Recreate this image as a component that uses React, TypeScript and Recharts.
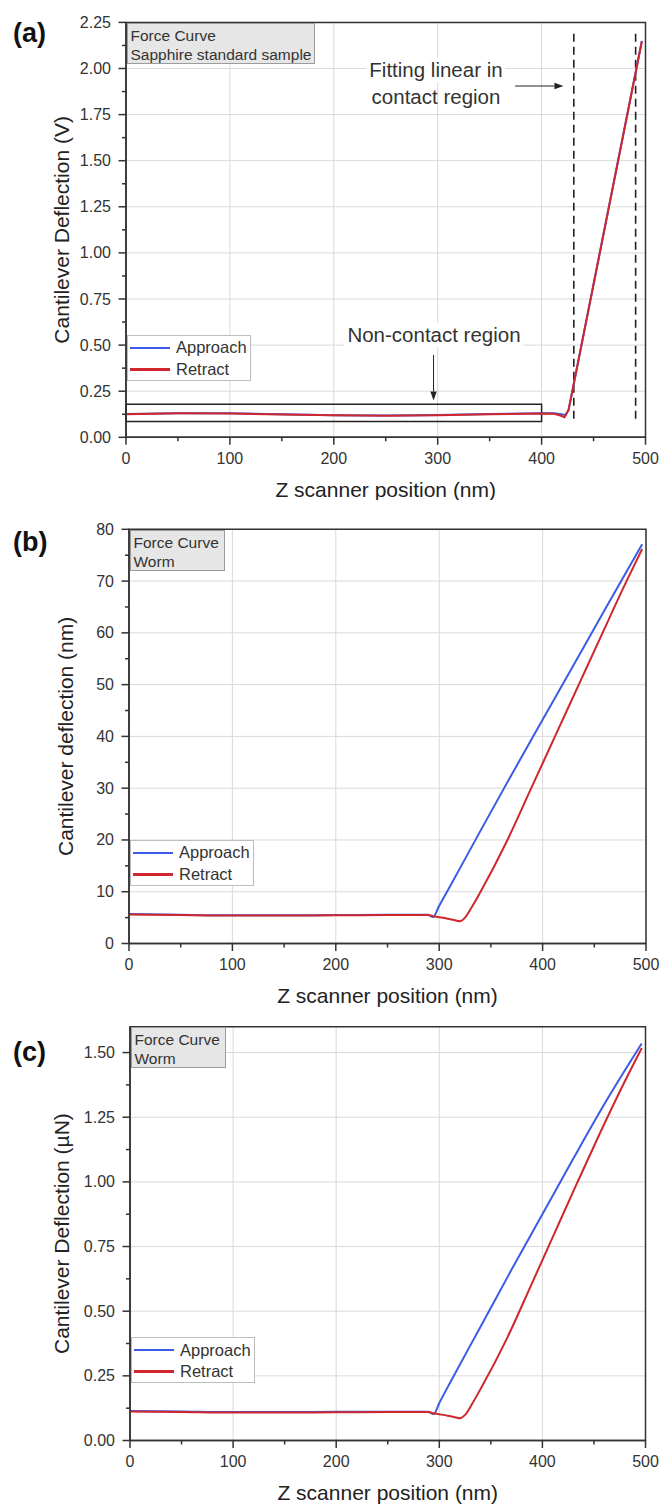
import React from 'react';
import { LineChart, Line, XAxis, YAxis, CartesianGrid, ReferenceArea, ReferenceLine } from 'recharts';

type Pt = { x: number; y: number };

const FONT = '"Liberation Sans", Arial, Helvetica, sans-serif';
const INK = '#333';
const GRID = '#d9d9d9';
const BLUE = '#3b5ce4';
const RED = '#d0262d';

const seriesNames = ['Approach', 'Retract'];
const seriesColors = [BLUE, RED];

const xTicks = [0, 50, 100, 150, 200, 250, 300, 350, 400, 450, 500];
const xMajor = [0, 100, 200, 300, 400, 500];

// (a) sapphire standard sample, volts
const approachA: Pt[] = [
  { x: 0, y: 0.127 }, { x: 50, y: 0.131 }, { x: 100, y: 0.13 }, { x: 150, y: 0.125 },
  { x: 200, y: 0.12 }, { x: 250, y: 0.118 }, { x: 300, y: 0.121 }, { x: 350, y: 0.126 },
  { x: 400, y: 0.13 }, { x: 412, y: 0.13 }, { x: 419, y: 0.125 }, { x: 423, y: 0.121 },
  { x: 426, y: 0.15 }, { x: 496.5, y: 2.15 },
];
const retractA: Pt[] = [
  { x: 0, y: 0.125 }, { x: 50, y: 0.13 }, { x: 100, y: 0.129 }, { x: 150, y: 0.124 },
  { x: 200, y: 0.119 }, { x: 250, y: 0.117 }, { x: 300, y: 0.12 }, { x: 350, y: 0.125 },
  { x: 400, y: 0.129 }, { x: 412, y: 0.128 }, { x: 418, y: 0.118 }, { x: 422, y: 0.109 },
  { x: 426, y: 0.148 }, { x: 496.5, y: 2.148 },
];
const yTicksA = [0, 0.125, 0.25, 0.375, 0.5, 0.625, 0.75, 0.875, 1, 1.125, 1.25, 1.375, 1.5, 1.625, 1.75, 1.875, 2, 2.125, 2.25];
const yMajorA = [0, 0.25, 0.5, 0.75, 1, 1.25, 1.5, 1.75, 2, 2.25];

// (b) worm, nm
const approachB: Pt[] = [
  { x: 0, y: 5.7 }, { x: 50, y: 5.55 }, { x: 100, y: 5.45 }, { x: 150, y: 5.45 },
  { x: 200, y: 5.5 }, { x: 250, y: 5.55 }, { x: 289, y: 5.55 }, { x: 294, y: 5.1 },
  { x: 300, y: 7.3 }, { x: 312, y: 11.6 }, { x: 340, y: 21.8 }, { x: 370, y: 32.6 },
  { x: 400, y: 43.2 }, { x: 430, y: 53.8 }, { x: 460, y: 64.4 }, { x: 496.3, y: 77.1 },
];
const retractB: Pt[] = [
  { x: 0, y: 5.6 }, { x: 50, y: 5.5 }, { x: 100, y: 5.4 }, { x: 150, y: 5.4 },
  { x: 200, y: 5.45 }, { x: 250, y: 5.5 }, { x: 289, y: 5.5 }, { x: 296, y: 5.2 },
  { x: 308, y: 4.8 }, { x: 316, y: 4.45 }, { x: 320, y: 4.3 }, { x: 325, y: 5.0 },
  { x: 332, y: 7.2 }, { x: 340, y: 10 }, { x: 366, y: 20 }, { x: 389, y: 30 },
  { x: 412, y: 40 }, { x: 435, y: 50 }, { x: 458, y: 60 }, { x: 480, y: 69.5 },
  { x: 496.3, y: 76.2 },
];
const yTicksB = [0, 5, 10, 15, 20, 25, 30, 35, 40, 45, 50, 55, 60, 65, 70, 75, 80];
const yMajorB = [0, 10, 20, 30, 40, 50, 60, 70, 80];

// (c) worm, µN
const approachC: Pt[] = [
  { x: 0, y: 0.114 }, { x: 50, y: 0.112 }, { x: 100, y: 0.11 }, { x: 150, y: 0.11 },
  { x: 200, y: 0.111 }, { x: 250, y: 0.111 }, { x: 289, y: 0.111 }, { x: 294.5, y: 0.102 },
  { x: 300, y: 0.145 }, { x: 312, y: 0.235 }, { x: 340, y: 0.44 }, { x: 370, y: 0.66 },
  { x: 400, y: 0.875 }, { x: 430, y: 1.09 }, { x: 460, y: 1.3 }, { x: 496.3, y: 1.535 },
];
const retractC: Pt[] = [
  { x: 0, y: 0.112 }, { x: 50, y: 0.11 }, { x: 100, y: 0.108 }, { x: 150, y: 0.108 },
  { x: 200, y: 0.109 }, { x: 250, y: 0.11 }, { x: 289, y: 0.11 }, { x: 296, y: 0.104 },
  { x: 308, y: 0.096 }, { x: 316, y: 0.089 }, { x: 320, y: 0.086 }, { x: 325, y: 0.099 },
  { x: 332, y: 0.143 }, { x: 340, y: 0.199 }, { x: 366, y: 0.398 }, { x: 389, y: 0.6 },
  { x: 411, y: 0.795 }, { x: 433, y: 0.99 }, { x: 456, y: 1.19 }, { x: 477, y: 1.365 },
  { x: 496.3, y: 1.517 },
];
const yTicksC = [0, 0.125, 0.25, 0.375, 0.5, 0.625, 0.75, 0.875, 1, 1.125, 1.25, 1.375, 1.5];
const yMajorC = [0, 0.25, 0.5, 0.75, 1, 1.25, 1.5];

const TICK = 8;
const GAP = 3;
const XH = 30;

const XTick = (props: any) => {
  const { x, y, payload, majors } = props;
  const v = payload.value;
  const major = majors.includes(v);
  const ay = y - TICK - GAP;
  return (
    <g>
      <line x1={x} x2={x} y1={ay} y2={ay + (major ? 7.5 : 4)} stroke={INK} strokeWidth={1.5} />
      {major && (
        <text x={x} y={ay + 21} textAnchor="middle" dominantBaseline="central" fontSize={16} fill={INK} fontFamily={FONT}>
          {v}
        </text>
      )}
    </g>
  );
};

const YTick = (props: any) => {
  const { x, y, payload, majors, decimals } = props;
  const v = payload.value;
  const major = majors.includes(v);
  const ax = x + TICK + GAP;
  return (
    <g>
      <line x1={ax} x2={ax - (major ? 7.5 : 4)} y1={y} y2={y} stroke={INK} strokeWidth={1.5} />
      {major && (
        <text x={ax - 15} y={y} textAnchor="end" dominantBaseline="central" fontSize={16} fill={INK} fontFamily={FONT}>
          {v.toFixed(decimals)}
        </text>
      )}
    </g>
  );
};

const Arrow = (p: any) => {
  const { x1, y1, x2, y2 } = p;
  const ang = Math.atan2(y2 - y1, x2 - x1);
  const L = 9;
  const Wd = 3.2;
  const bx = x2 - L * Math.cos(ang);
  const by = y2 - L * Math.sin(ang);
  const pts = `${x2},${y2} ${bx - Wd * Math.sin(ang)},${by + Wd * Math.cos(ang)} ${bx + Wd * Math.sin(ang)},${by - Wd * Math.cos(ang)}`;
  return (
    <g>
      <line x1={x1} y1={y1} x2={bx} y2={by} stroke="#222" strokeWidth={1} />
      <polygon points={pts} fill="#222" />
    </g>
  );
};

type PanelProps = {
  top: number;
  height: number;
  margin: { top: number; right: number; bottom: number; left: number };
  yWidth: number;
  series: Pt[][];
  yMax: number;
  yTicks: number[];
  yMajor: number[];
  decimals: number;
  yTitle: string;
  yTitleX: number;
  letter: string;
  letterY: number;
  boxLines: string[];
  boxW: number;
  legendTop: number;
  curve: 'linear' | 'monotone';
  extras?: React.ReactNode;
  notes?: React.ReactNode;
};

const W = 662;

const Panel = (p: PanelProps) => {
  // margin.bottom here is the distance from the plot bottom to the chart bottom
  const plotH = p.height - p.margin.top - p.margin.bottom;
  const plotW = W - p.yWidth - p.margin.right;
  const margin = { ...p.margin, bottom: p.margin.bottom - XH };
  return (
    <div style={{ position: 'absolute', left: 0, top: p.top, width: W, height: p.height, fontFamily: FONT }}>
      <LineChart width={W} height={p.height} margin={margin}>
        <CartesianGrid stroke={GRID} strokeWidth={1} horizontalValues={p.yMajor} verticalValues={xMajor} />
        <XAxis
          type="number"
          dataKey="x"
          domain={[0, 500]}
          ticks={xTicks}
          interval={0}
          height={XH}
          tickSize={TICK}
          tickMargin={GAP}
          tickLine={false}
          axisLine={{ stroke: INK, strokeWidth: 1.5 }}
          tick={<XTick majors={xMajor} />}
          label={() => (
            <text
              x={p.yWidth + plotW / 2}
              y={p.margin.top + plotH + 52}
              textAnchor="middle"
              dominantBaseline="central"
              fontSize={21}
              fill="#222"
              fontFamily={FONT}
            >
              Z scanner position (nm)
            </text>
          )}
        />
        <YAxis
          type="number"
          domain={[0, p.yMax]}
          ticks={p.yTicks}
          interval={0}
          width={p.yWidth}
          tickSize={TICK}
          tickMargin={GAP}
          tickLine={false}
          axisLine={{ stroke: INK, strokeWidth: 1.5 }}
          tick={<YTick majors={p.yMajor} decimals={p.decimals} />}
          label={() => {
            const cy = p.margin.top + plotH / 2;
            return (
              <text
                x={p.yTitleX}
                y={cy}
                transform={`rotate(-90 ${p.yTitleX} ${cy})`}
                textAnchor="middle"
                dominantBaseline="central"
                fontSize={21}
                fill="#222"
                fontFamily={FONT}
              >
                {p.yTitle}
              </text>
            );
          }}
        />
        <ReferenceArea x1={0} x2={500} y1={0} y2={p.yMax} fill="none" stroke={INK} strokeWidth={1.5} ifOverflow="visible" />
        {p.extras}
        {p.series.map((d, i) => (
          <Line
            key={seriesNames[i]}
            data={d}
            dataKey="y"
            name={seriesNames[i]}
            type={p.curve}
            stroke={seriesColors[i]}
            strokeWidth={2}
            dot={false}
            activeDot={false}
            isAnimationActive={false}
          />
        ))}
      </LineChart>

      <div style={{ position: 'absolute', left: 13, top: p.letterY - 17, fontSize: 27, fontWeight: 'bold', color: '#111', lineHeight: '34px' }}>
        {p.letter}
      </div>

      <div
        style={{
          position: 'absolute',
          left: p.yWidth + 0.5,
          top: p.margin.top + 0.5,
          width: p.boxW,
          height: 41,
          boxSizing: 'border-box',
          background: '#e6e6e6',
          border: '1px solid #9c9c9c',
          padding: '2px 0 0 3px',
          fontSize: 15.5,
          lineHeight: '19px',
          color: '#333',
          whiteSpace: 'nowrap',
        }}
      >
        {p.boxLines.map((t) => (
          <div key={t}>{t}</div>
        ))}
      </div>

      <div
        style={{
          position: 'absolute',
          left: p.yWidth + 1,
          top: p.legendTop,
          width: 124,
          height: 46,
          boxSizing: 'border-box',
          background: '#fff',
          border: '1px solid #bdbdbd',
          padding: '1px 0 0 2px',
        }}
      >
        {seriesNames.map((n, i) => (
          <div key={n} style={{ display: 'flex', alignItems: 'center', height: 21.5 }}>
            <div style={{ width: 40, height: 2.5, background: seriesColors[i], marginRight: 6 }} />
            <span style={{ fontSize: 16.5, color: '#333' }}>{n}</span>
          </div>
        ))}
      </div>

      {p.notes}
    </div>
  );
};

const noteStyle: React.CSSProperties = {
  position: 'absolute',
  transform: 'translate(-50%, -50%)',
  fontSize: 20.5,
  color: '#333',
  background: '#fff',
  padding: '0 3px',
  whiteSpace: 'nowrap',
  lineHeight: '24px',
};

export default function App() {
  return (
    <div style={{ position: 'absolute', left: 0, top: 0, width: W, height: 1505, background: '#fff' }}>
      <Panel
        top={0}
        height={500}
        margin={{ top: 22.4, right: 16.5, bottom: 62.7, left: 0 }}
        yWidth={126}
        series={[approachA, retractA]}
        yMax={2.25}
        yTicks={yTicksA}
        yMajor={yMajorA}
        decimals={2}
        yTitle="Cantilever Deflection (V)"
        yTitleX={62}
        letter="(a)"
        letterY={33}
        boxLines={['Force Curve', 'Sapphire standard sample']}
        boxW={188}
        legendTop={335}
        curve="linear"
        extras={[
          <ReferenceArea key="box" x1={0} x2={400} y1={0.086} y2={0.179} fill="none" stroke="#222" strokeWidth={1.5} />,
          <ReferenceLine key="d1" segment={[{ x: 431, y: 0.1 }, { x: 431, y: 2.2 }]} stroke="#222" strokeWidth={1.6} strokeDasharray="8 5" />,
          <ReferenceLine key="d2" segment={[{ x: 490.5, y: 0.1 }, { x: 490.5, y: 2.2 }]} stroke="#222" strokeWidth={1.6} strokeDasharray="8 5" />,
          <ReferenceLine key="a1" segment={[{ x: 296, y: 0.446 }, { x: 296, y: 0.2 }]} shape={<Arrow />} />,
          <ReferenceLine key="a2" segment={[{ x: 374.5, y: 1.905 }, { x: 421, y: 1.905 }]} shape={<Arrow />} />,
        ]}
        notes={
          <>
            <div style={{ ...noteStyle, left: 434, top: 335 }}>Non-contact region</div>
            <div style={{ ...noteStyle, left: 436, top: 70 }}>Fitting linear in</div>
            <div style={{ ...noteStyle, left: 436, top: 97, background: 'transparent' }}>contact region</div>
          </>
        }
      />
      <Panel
        top={500}
        height={515}
        margin={{ top: 29.3, right: 16, bottom: 71.5, left: 0 }}
        yWidth={129}
        series={[approachB, retractB]}
        yMax={80}
        yTicks={yTicksB}
        yMajor={yMajorB}
        decimals={0}
        yTitle="Cantilever deflection (nm)"
        yTitleX={66}
        letter="(b)"
        letterY={41.7}
        boxLines={['Force Curve', 'Worm']}
        boxW={95}
        legendTop={340}
        curve="monotone"
      />
      <Panel
        top={1000}
        height={505}
        margin={{ top: 26.7, right: 16.5, bottom: 64.5, left: 0 }}
        yWidth={130}
        series={[approachC, retractC]}
        yMax={1.6}
        yTicks={yTicksC}
        yMajor={yMajorC}
        decimals={2}
        yTitle="Cantilever Deflection (µN)"
        yTitleX={62}
        letter="(c)"
        letterY={51.7}
        boxLines={['Force Curve', 'Worm']}
        boxW={95}
        legendTop={337.3}
        curve="monotone"
      />
    </div>
  );
}
